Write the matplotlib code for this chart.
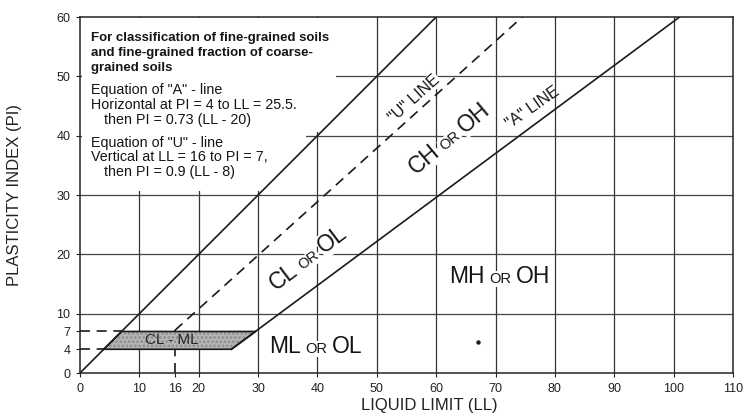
import math
import matplotlib
matplotlib.use("Agg")
import matplotlib.pyplot as plt
from matplotlib.patches import Polygon

plt.rcParams['font.family'] = ['Liberation Sans', 'DejaVu Sans']
plt.rcParams['hatch.linewidth'] = 1.2

# ---- data ----
x_ticks = [0, 10, 16, 20, 30, 40, 50, 60, 70, 80, 90, 100, 110]
y_ticks = [0, 4, 7, 10, 20, 30, 40, 50, 60]
grid_x = [10, 20, 30, 40, 50, 60, 70, 80, 90, 100]
grid_y = [10, 20, 30, 40, 50]

upper_ll = [0, 60]
upper_pi = [0, 60]
a_line_ll = [25.5, 101.0]
a_line_pi = [4, 60]
u_line_ll = [16, 74.5]
u_line_pi = [7.2, 60]
u_vert_ll = [16, 16]
u_vert_pi = [0, 7.2]
dash4_ll = [0, 4]
dash4_pi = [4, 4]
dash7_ll = [0, 7]
dash7_pi = [7, 7]
clml_ll = [4, 25.5, 29.6, 7]
clml_pi = [4, 4, 7, 7]
dot_ll = [67]
dot_pi = [5.2]

box1 = ["For classification of fine-grained soils",
        "and fine-grained fraction of coarse-",
        "grained soils"]
box2 = ['Equation of "A" - line',
        "Horizontal at PI = 4 to LL = 25.5.",
        "then PI = 0.73 (LL - 20)"]
box3 = ['Equation of "U" - line',
        "Vertical at LL = 16 to PI = 7,",
        "then PI = 0.9 (LL - 8)"]

fig = plt.figure(figsize=(7.53, 4.19), dpi=100)
ax = fig.add_axes([80/753, 46/419, 653/753, 356/419])
ax.set_xlim(0, 110)
ax.set_ylim(0, 60)

lc = '#1a1a1a'
for gx in grid_x:
    ax.axvline(gx, color='#333333', lw=0.9, zorder=1)
for gy in grid_y:
    ax.axhline(gy, color='#444444', lw=0.9, zorder=1)

# white area behind the note box
ax.add_patch(Polygon([(0.3, 30.7), (38, 30.7), (38, 40.6), (43.2, 40.6),
                      (43.2, 59.8), (0.3, 59.8)], closed=True,
                     facecolor='white', edgecolor='none', zorder=1.5))

# hatched CL-ML zone
ax.add_patch(Polygon(list(zip(clml_ll, clml_pi)), closed=True,
                     facecolor='#b4b4b4', edgecolor='#8a8a8a', hatch='....',
                     lw=0, zorder=3))
ax.plot(clml_ll + clml_ll[:1], clml_pi + clml_pi[:1], color=lc, lw=1.2,
        zorder=3.5)
ax.text(15.5, 5.5, "CL - ML", fontsize=11, color='#262626', ha='center',
        va='center', zorder=4)

ax.plot(upper_ll, upper_pi, color=lc, lw=1.2, zorder=3)
ax.plot(a_line_ll, a_line_pi, color=lc, lw=1.2, zorder=3)
dash = (0, (6, 4))
ax.plot(u_line_ll, u_line_pi, color=lc, lw=1.2, ls=dash, zorder=3)
ax.plot(u_vert_ll, u_vert_pi, color=lc, lw=1.2, ls=dash, zorder=2)
ax.plot(dash4_ll, dash4_pi, color=lc, lw=1.2, ls=dash, zorder=2)
ax.plot(dash7_ll, dash7_pi, color=lc, lw=1.2, ls=dash, zorder=2)
ax.plot(dot_ll, dot_pi, 'o', color=lc, ms=2.2, zorder=3)

# note text
def block(lines, ys, bold, size):
    for i, (s, y) in enumerate(zip(lines, ys)):
        x = 4.0 if (not bold and i == 2) else 1.9
        ax.text(x, y, s, fontsize=size,
                fontweight='bold' if bold else 'normal',
                ha='left', va='center', color='#151515', zorder=4)

block(box1, [56.5, 54.0, 51.4], True, 9.5)
block(box2, [47.7, 45.2, 42.6], False, 10.3)
block(box3, [38.8, 36.4, 33.9], False, 10.3)

# composite rotated labels (baseline-aligned pieces)
def label3(x, y, a, mid, b, rot, da, db, big=16.5, small=10.5):
    c, s = math.cos(math.radians(rot)), math.sin(math.radians(rot))
    kw = dict(rotation=rot, rotation_mode='anchor', ha='center',
              va='baseline', color='#151515', zorder=4,
              bbox=dict(facecolor='white', edgecolor='none', pad=0.5))
    ax.annotate(mid, (x, y), xytext=(0, 0), textcoords='offset points',
                fontsize=small, **kw)
    ax.annotate(a, (x, y), xytext=(-da*c, -da*s), textcoords='offset points',
                fontsize=big, **kw)
    ax.annotate(b, (x, y), xytext=(db*c, db*s), textcoords='offset points',
                fontsize=big, **kw)

label3(39.0, 18.4, "CL", "OR", "OL", 37, 21.9, 22.4)
label3(62.8, 38.6, "CH", "OR", "OH", 40, 23.3, 23.8)
label3(70.8, 15.2, "MH", "OR", "OH", 0, 24.2, 23.8)
label3(39.8, 3.4, "ML", "OR", "OL", 0, 22.8, 22.4)

ax.text(56.3, 46.3, '"U" LINE', fontsize=11.5, rotation=42, ha='center',
        va='center', rotation_mode='anchor', color='#151515', zorder=4,
        bbox=dict(facecolor='white', edgecolor='none', pad=0.5))
ax.text(76.3, 44.7, '"A" LINE', fontsize=11.5, rotation=35, ha='center',
        va='center', rotation_mode='anchor', color='#151515', zorder=4)

ax.set_xticks(x_ticks)
ax.set_xticklabels([str(v) for v in x_ticks])
ax.set_yticks(y_ticks)
ax.set_yticklabels([str(v) for v in y_ticks])
ax.tick_params(axis='both', labelsize=9, length=3, width=0.8,
               color='#222222', labelcolor='#222222', pad=4)
for sp in ax.spines.values():
    sp.set_linewidth(1.1)
    sp.set_color('#222222')
    sp.set_zorder(5)

fig.text(429.5/753, 1 - 405/419, "LIQUID LIMIT (LL)", fontsize=12,
         ha='center', va='center', color='#222222')
fig.text(15/753, 1 - 195/419, "PLASTICITY INDEX (PI)", fontsize=12,
         rotation=90, ha='center', va='center', color='#222222')

fig.savefig("out.png", dpi=100)
